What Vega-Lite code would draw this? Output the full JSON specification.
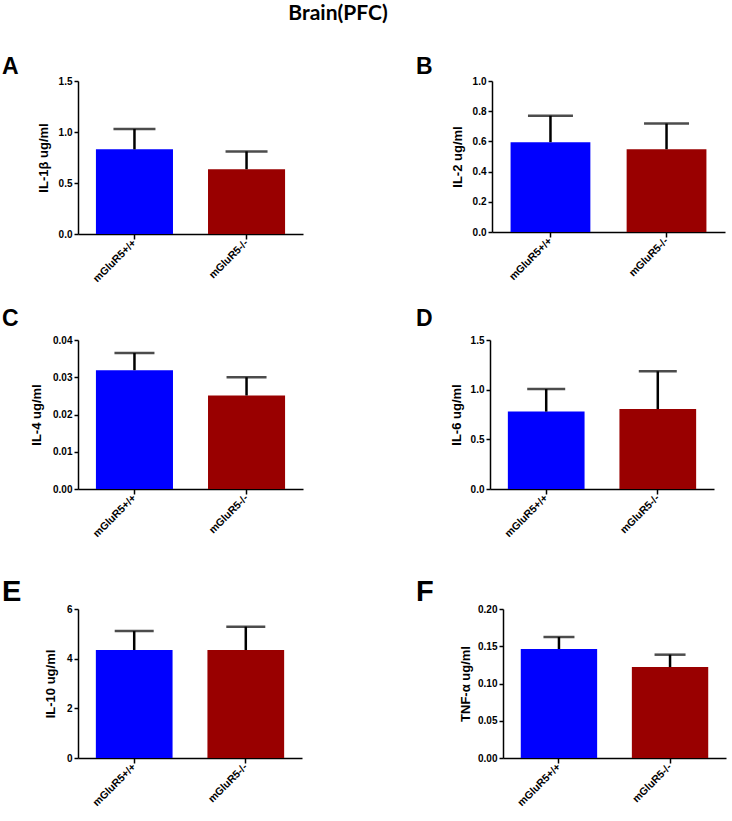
{
  "$schema": "https://vega.github.io/schema/vega-lite/v6.json",
  "background": "white",
  "padding": {"left": 2, "top": 3, "right": 4, "bottom": 2},
  "title": {"text": "Brain(PFC)", "font": "Lato", "fontSize": 21, "fontWeight": "bold", "anchor": "middle", "frame": "bounds", "baseline": "alphabetic", "dx": -26, "offset": 15, "color": "black"},
  "datasets": {
    "cyto": [
      {"panel": "A", "genotype": "mGluR5+/+", "mean": 0.83, "upper": 1.03},
      {"panel": "A", "genotype": "mGluR5-/-", "mean": 0.635, "upper": 0.81},
      {"panel": "B", "genotype": "mGluR5+/+", "mean": 0.595, "upper": 0.77},
      {"panel": "B", "genotype": "mGluR5-/-", "mean": 0.548, "upper": 0.718},
      {"panel": "C", "genotype": "mGluR5+/+", "mean": 0.0319, "upper": 0.0365},
      {"panel": "C", "genotype": "mGluR5-/-", "mean": 0.0251, "upper": 0.0300},
      {"panel": "D", "genotype": "mGluR5+/+", "mean": 0.779, "upper": 1.007},
      {"panel": "D", "genotype": "mGluR5-/-", "mean": 0.805, "upper": 1.185},
      {"panel": "E", "genotype": "mGluR5+/+", "mean": 4.35, "upper": 5.11},
      {"panel": "E", "genotype": "mGluR5-/-", "mean": 4.35, "upper": 5.29},
      {"panel": "F", "genotype": "mGluR5+/+", "mean": 0.1463, "upper": 0.1624},
      {"panel": "F", "genotype": "mGluR5-/-", "mean": 0.1221, "upper": 0.1387}
    ]
  },
  "config": {
    "view": {"stroke": null},
    "axis": {"domainColor": "black", "domainWidth": 1.5, "tickColor": "black", "tickWidth": 1.5, "labelColor": "black", "titleColor": "black", "labelFont": "Liberation Sans", "titleFont": "Liberation Sans", "labelFontWeight": "bold", "titleFontWeight": "bold", "grid": false},
    "axisY": {"tickSize": 4, "labelFontSize": 10, "titleFontSize": 13, "labelPadding": 2, "labelOverlap": false, "labelBound": false, "tickCount": 12},
    "axisX": {"tickSize": 5, "labelFontSize": 10.5, "labelAngle": -45, "labelAlign": "right", "labelBaseline": "middle", "labelPadding": 2, "labelOverlap": false},
    "title": {"font": "Liberation Sans", "fontWeight": "bold", "color": "black", "anchor": "start", "frame": "group", "baseline": "alphabetic"}
  },
  "spacing": 23,
  "vconcat": [
    {
      "spacing": 113,
      "hconcat": [
        {
          "width": 225, "height": 153,
          "title": {"text": "A", "fontSize": 23, "dx": -76, "offset": -3},
          "data": {"name": "cyto"},
          "transform": [{"filter": "datum.panel == 'A'"}],
          "encoding": {"x": {"field": "genotype", "type": "nominal", "sort": null, "title": null, "scale": {"paddingInner": 0.3125, "paddingOuter": 0.16}, "axis": {"minExtent": 50}}},
          "layer": [
            {"mark": {"type": "bar"}, "encoding": {
              "y": {"field": "mean", "type": "quantitative", "title": "IL-1β ug/ml", "scale": {"domain": [0, 1.5], "nice": false}, "axis": {"values": [0, 0.5, 1, 1.5], "tickCount": 12, "labelOverlap": false, "format": ".1f", "titlePadding": 8}},
              "color": {"field": "genotype", "type": "nominal", "scale": {"domain": ["mGluR5+/+", "mGluR5-/-"], "range": ["#0000ff", "#990000"]}, "legend": null}}},
            {"mark": {"type": "rule", "color": "black", "strokeWidth": 2.5}, "encoding": {"y": {"field": "mean", "type": "quantitative", "title": "IL-1β ug/ml"}, "y2": {"field": "upper"}}},
            {"mark": {"type": "tick", "color": "black", "thickness": 2.5, "size": 42}, "encoding": {"y": {"field": "upper", "type": "quantitative", "title": "IL-1β ug/ml"}}}
          ]
        },
        {
          "width": 233, "height": 151,
          "title": {"text": "B", "fontSize": 23, "dx": -76, "offset": -3},
          "data": {"name": "cyto"},
          "transform": [{"filter": "datum.panel == 'B'"}],
          "encoding": {"x": {"field": "genotype", "type": "nominal", "sort": null, "title": null, "scale": {"paddingInner": 0.3125, "paddingOuter": 0.16}, "axis": {"minExtent": 50}}},
          "layer": [
            {"mark": {"type": "bar"}, "encoding": {
              "y": {"field": "mean", "type": "quantitative", "title": "IL-2 ug/ml", "scale": {"domain": [0, 1], "nice": false}, "axis": {"values": [0, 0.2, 0.4, 0.6, 0.8, 1], "tickCount": 12, "labelOverlap": false, "format": ".1f", "titlePadding": 8}},
              "color": {"field": "genotype", "type": "nominal", "legend": null}}},
            {"mark": {"type": "rule", "color": "black", "strokeWidth": 2.5}, "encoding": {"y": {"field": "mean", "type": "quantitative", "title": "IL-2 ug/ml"}, "y2": {"field": "upper"}}},
            {"mark": {"type": "tick", "color": "black", "thickness": 2.5, "size": 45}, "encoding": {"y": {"field": "upper", "type": "quantitative", "title": "IL-2 ug/ml"}}}
          ]
        }
      ]
    },
    {
      "spacing": 113,
      "hconcat": [
        {
          "width": 225, "height": 149,
          "title": {"text": "C", "fontSize": 23, "dx": -76, "offset": 4},
          "data": {"name": "cyto"},
          "transform": [{"filter": "datum.panel == 'C'"}],
          "encoding": {"x": {"field": "genotype", "type": "nominal", "sort": null, "title": null, "scale": {"paddingInner": 0.3125, "paddingOuter": 0.16}, "axis": {"minExtent": 66}}},
          "layer": [
            {"mark": {"type": "bar"}, "encoding": {
              "y": {"field": "mean", "type": "quantitative", "title": "IL-4 ug/ml", "scale": {"domain": [0, 0.04], "nice": false}, "axis": {"values": [0, 0.01, 0.02, 0.03, 0.04], "tickCount": 12, "labelOverlap": false, "format": ".2f", "titlePadding": 9}},
              "color": {"field": "genotype", "type": "nominal", "legend": null}}},
            {"mark": {"type": "rule", "color": "black", "strokeWidth": 2.5}, "encoding": {"y": {"field": "mean", "type": "quantitative", "title": "IL-4 ug/ml"}, "y2": {"field": "upper"}}},
            {"mark": {"type": "tick", "color": "black", "thickness": 2.5, "size": 40}, "encoding": {"y": {"field": "upper", "type": "quantitative", "title": "IL-4 ug/ml"}}}
          ]
        },
        {
          "width": 224, "height": 149,
          "title": {"text": "D", "fontSize": 23, "dx": -74, "offset": 4},
          "data": {"name": "cyto"},
          "transform": [{"filter": "datum.panel == 'D'"}],
          "encoding": {"x": {"field": "genotype", "type": "nominal", "sort": null, "title": null, "scale": {"paddingInner": 0.3125, "paddingOuter": 0.16}, "axis": {"minExtent": 66}}},
          "layer": [
            {"mark": {"type": "bar"}, "encoding": {
              "y": {"field": "mean", "type": "quantitative", "title": "IL-6 ug/ml", "scale": {"domain": [0, 1.5], "nice": false}, "axis": {"values": [0, 0.5, 1, 1.5], "tickCount": 12, "labelOverlap": false, "format": ".1f", "titlePadding": 7}},
              "color": {"field": "genotype", "type": "nominal", "legend": null}}},
            {"mark": {"type": "rule", "color": "black", "strokeWidth": 2.5}, "encoding": {"y": {"field": "mean", "type": "quantitative", "title": "IL-6 ug/ml"}, "y2": {"field": "upper"}}},
            {"mark": {"type": "tick", "color": "black", "thickness": 2.5, "size": 38}, "encoding": {"y": {"field": "upper", "type": "quantitative", "title": "IL-6 ug/ml"}}}
          ]
        }
      ]
    },
    {
      "spacing": 114,
      "hconcat": [
        {
          "width": 224, "height": 149,
          "title": {"text": "E", "fontSize": 29, "dx": -76, "offset": -3},
          "data": {"name": "cyto"},
          "transform": [{"filter": "datum.panel == 'E'"}],
          "encoding": {"x": {"field": "genotype", "type": "nominal", "sort": null, "title": null, "scale": {"paddingInner": 0.3125, "paddingOuter": 0.16}}},
          "layer": [
            {"mark": {"type": "bar"}, "encoding": {
              "y": {"field": "mean", "type": "quantitative", "title": "IL-10 ug/ml", "scale": {"domain": [0, 6], "nice": false}, "axis": {"values": [0, 2, 4, 6], "tickCount": 12, "labelOverlap": false, "format": "d", "titlePadding": 9}},
              "color": {"field": "genotype", "type": "nominal", "legend": null}}},
            {"mark": {"type": "rule", "color": "black", "strokeWidth": 2.5}, "encoding": {"y": {"field": "mean", "type": "quantitative", "title": "IL-10 ug/ml"}, "y2": {"field": "upper"}}},
            {"mark": {"type": "tick", "color": "black", "thickness": 2.5, "size": 39}, "encoding": {"y": {"field": "upper", "type": "quantitative", "title": "IL-10 ug/ml"}}}
          ]
        },
        {
          "width": 223, "height": 149,
          "title": {"text": "F", "fontSize": 29, "dx": -87, "offset": -3},
          "data": {"name": "cyto"},
          "transform": [{"filter": "datum.panel == 'F'"}],
          "encoding": {"x": {"field": "genotype", "type": "nominal", "sort": null, "title": null, "scale": {"paddingInner": 0.3125, "paddingOuter": 0.16}}},
          "layer": [
            {"mark": {"type": "bar"}, "encoding": {
              "y": {"field": "mean", "type": "quantitative", "title": "TNF-α ug/ml", "scale": {"domain": [0, 0.2], "nice": false}, "axis": {"values": [0, 0.05, 0.1, 0.15, 0.2], "tickCount": 12, "labelOverlap": false, "format": ".2f", "titlePadding": 5.5}},
              "color": {"field": "genotype", "type": "nominal", "legend": null}}},
            {"mark": {"type": "rule", "color": "black", "strokeWidth": 2.5}, "encoding": {"y": {"field": "mean", "type": "quantitative", "title": "TNF-α ug/ml"}, "y2": {"field": "upper"}}},
            {"mark": {"type": "tick", "color": "black", "thickness": 2.5, "size": 31}, "encoding": {"y": {"field": "upper", "type": "quantitative", "title": "TNF-α ug/ml"}}}
          ]
        }
      ]
    }
  ]
}
